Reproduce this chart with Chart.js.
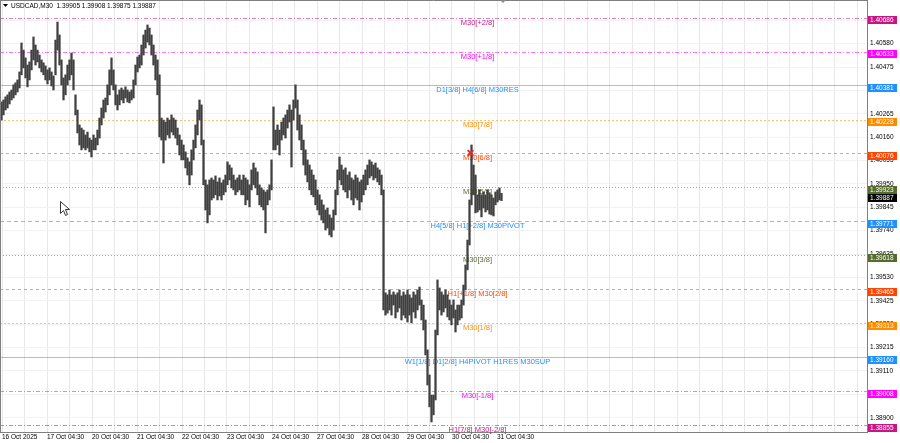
<!DOCTYPE html>
<html>
<head>
<meta charset="utf-8">
<script src="https://cdn.jsdelivr.net/npm/chart.js@4.4.1/dist/chart.umd.min.js"></script>
<style>
  html, body { margin: 0; padding: 0; background: #fff; }
  #wrap { width: 900px; height: 443px; position: relative; }
</style>
</head>
<body>
<div id="wrap"><canvas id="chart"></canvas></div>
<script>
const symbolName = 'USDCAD,M30';
const lastOhlc = [1.39905, 1.39908, 1.39875, 1.39887];

// one entry per hour-ish slot
const highs = [
  1.40318, 1.40327, 1.40341, 1.40350, 1.40363, 1.40372, 1.40395, 1.40404, 1.40417, 1.40453,
  1.40583, 1.40551, 1.40516, 1.40484, 1.40498, 1.40551, 1.40610, 1.40574, 1.40551, 1.40529,
  1.40507, 1.40494, 1.40480, 1.40462, 1.40471, 1.40453, 1.40435, 1.40596, 1.40677, 1.40619,
  1.40507, 1.40426, 1.40440, 1.40484, 1.40507, 1.40538, 1.40507, 1.40350, 1.40282, 1.40215,
  1.40201, 1.40192, 1.40170, 1.40183, 1.40156, 1.40147, 1.40170, 1.40156, 1.40192, 1.40246,
  1.40291, 1.40327, 1.40336, 1.40395, 1.40462, 1.40516, 1.40462, 1.40395, 1.40350, 1.40372,
  1.40381, 1.40372, 1.40386, 1.40372, 1.40363, 1.40372, 1.40417, 1.40484, 1.40520, 1.40529,
  1.40574, 1.40619, 1.40641, 1.40664, 1.40650, 1.40619, 1.40574, 1.40529, 1.40507, 1.40440,
  1.40246, 1.40237, 1.40228, 1.40246, 1.40237, 1.40260, 1.40246, 1.40237, 1.40201, 1.40170,
  1.40147, 1.40125, 1.40094, 1.40067, 1.40049, 1.40103, 1.40147, 1.40215, 1.40282, 1.40327,
  1.40305, 1.40147, 1.39968, 1.39946, 1.39968, 1.39977, 1.39968, 1.39986, 1.39959, 1.39977,
  1.39955, 1.39968, 1.39990, 1.40049, 1.40035, 1.40022, 1.39990, 1.39968, 1.39977, 1.39990,
  1.39968, 1.39990, 1.39977, 1.39968, 1.39946, 1.40013, 1.40044, 1.40022, 1.40004, 1.39946,
  1.39932, 1.39923, 1.39914, 1.39923, 1.39946, 1.40058, 1.40296, 1.40192, 1.40215, 1.40192,
  1.40228, 1.40246, 1.40260, 1.40282, 1.40305, 1.40282, 1.40327, 1.40395, 1.40327, 1.40260,
  1.40215, 1.40147, 1.40103, 1.40058, 1.40035, 1.40013, 1.39990, 1.39968, 1.39923, 1.39901,
  1.39878, 1.39856, 1.39833, 1.39842, 1.39811, 1.39797, 1.39833, 1.39923, 1.40013, 1.40071,
  1.40035, 1.40013, 1.40022, 1.39990, 1.40004, 1.39977, 1.39968, 1.39990, 1.39977, 1.39959,
  1.39968, 1.39990, 1.40013, 1.40035, 1.40058, 1.40049, 1.40035, 1.40044, 1.40022, 1.40013,
  1.39990, 1.39923, 1.39461, 1.39452, 1.39474, 1.39452, 1.39465, 1.39452, 1.39461, 1.39474,
  1.39447, 1.39465, 1.39452, 1.39474, 1.39452, 1.39438, 1.39465, 1.39452, 1.39474, 1.39487,
  1.39429, 1.39406, 1.39339, 1.39205, 1.39092, 1.39002, 1.39002, 1.39294, 1.39519, 1.39483,
  1.39465, 1.39452, 1.39474, 1.39452, 1.39429, 1.39406, 1.39429, 1.39384, 1.39406, 1.39406,
  1.39429, 1.39496, 1.39586, 1.39698, 1.39878, 1.40125, 1.40035, 1.39990, 1.39901, 1.39923,
  1.39901, 1.39914, 1.39901, 1.39923, 1.39910, 1.39901, 1.39887, 1.39914, 1.39923, 1.39932,
  1.39908
];
const lows = [
  1.40237, 1.40260, 1.40282, 1.40291, 1.40309, 1.40327, 1.40336, 1.40350, 1.40363, 1.40381,
  1.40440, 1.40471, 1.40426, 1.40386, 1.40417, 1.40462, 1.40507, 1.40484, 1.40498, 1.40471,
  1.40453, 1.40440, 1.40417, 1.40399, 1.40417, 1.40390, 1.40372, 1.40440, 1.40551, 1.40484,
  1.40395, 1.40327, 1.40350, 1.40395, 1.40417, 1.40440, 1.40372, 1.40260, 1.40179, 1.40125,
  1.40103, 1.40112, 1.40103, 1.40112, 1.40094, 1.40071, 1.40103, 1.40103, 1.40125, 1.40156,
  1.40215, 1.40246, 1.40273, 1.40305, 1.40350, 1.40395, 1.40372, 1.40305, 1.40282, 1.40305,
  1.40327, 1.40314, 1.40336, 1.40318, 1.40314, 1.40327, 1.40336, 1.40395, 1.40453, 1.40471,
  1.40484, 1.40529, 1.40560, 1.40587, 1.40574, 1.40529, 1.40484, 1.40417, 1.40350, 1.40161,
  1.40147, 1.40044, 1.40147, 1.40170, 1.40156, 1.40183, 1.40170, 1.40156, 1.40125, 1.40080,
  1.40058, 1.40058, 1.40022, 1.39990, 1.39946, 1.39990, 1.40058, 1.40112, 1.40170, 1.40237,
  1.40125, 1.39946, 1.39833, 1.39775, 1.39811, 1.39878, 1.39887, 1.39901, 1.39878, 1.39896,
  1.39878, 1.39901, 1.39914, 1.39946, 1.39968, 1.39932, 1.39923, 1.39901, 1.39914, 1.39923,
  1.39901, 1.39901, 1.39856, 1.39878, 1.39847, 1.39923, 1.39946, 1.39932, 1.39901, 1.39856,
  1.39847, 1.39833, 1.39730, 1.39856, 1.39878, 1.39923, 1.40103, 1.40103, 1.40125, 1.40080,
  1.40147, 1.40170, 1.40156, 1.40201, 1.40228, 1.40026, 1.40237, 1.40291, 1.40192, 1.40147,
  1.40103, 1.40035, 1.39990, 1.39959, 1.39923, 1.39901, 1.39892, 1.39856, 1.39833, 1.39811,
  1.39788, 1.39775, 1.39743, 1.39752, 1.39721, 1.39712, 1.39743, 1.39811, 1.39901, 1.39968,
  1.39946, 1.39923, 1.39914, 1.39887, 1.39923, 1.39878, 1.39856, 1.39887, 1.39878, 1.39833,
  1.39869, 1.39901, 1.39923, 1.39946, 1.39977, 1.39986, 1.39968, 1.39977, 1.39959, 1.39946,
  1.39901, 1.39384, 1.39361, 1.39370, 1.39384, 1.39361, 1.39406, 1.39348, 1.39375, 1.39393,
  1.39339, 1.39361, 1.39348, 1.39330, 1.39361, 1.39326, 1.39375, 1.39348, 1.39384, 1.39406,
  1.39339, 1.39294, 1.39182, 1.39047, 1.38949, 1.38881, 1.38913, 1.38980, 1.39272, 1.39384,
  1.39361, 1.39375, 1.39393, 1.39353, 1.39339, 1.39317, 1.39348, 1.39285, 1.39317, 1.39339,
  1.39348, 1.39406, 1.39474, 1.39564, 1.39676, 1.39856, 1.39901, 1.39820, 1.39824, 1.39833,
  1.39802, 1.39842, 1.39824, 1.39833, 1.39815, 1.39811, 1.39806, 1.39856, 1.39869, 1.39878,
  1.39875
];

const dateLabels = ['16 Oct 2025', '17 Oct 04:30', '20 Oct 04:30', '21 Oct 04:30', '22 Oct 04:30',
  '23 Oct 04:30', '24 Oct 04:30', '27 Oct 04:30', '28 Oct 04:30', '29 Oct 04:30', '30 Oct 04:30', '31 Oct 04:30'];
const slotsPerDay = 22.5;
const firstLabelSlot = 0.25;

const yTickValues = [1.38900, 1.39005, 1.39110, 1.39215, 1.39320, 1.39425, 1.39530, 1.39635, 1.39740,
  1.39845, 1.39950, 1.40055, 1.40160, 1.40265, 1.40370, 1.40475, 1.40580, 1.40685];

const levelPrices = [1.40686, 1.40533, 1.40381, 1.40228, 1.40076, 1.39923, 1.39771, 1.39618, 1.39465,
  1.39313, 1.39160, 1.39008, 1.38855];
const levelNames = ['M30[+2/8]', 'M30[+1/8]', 'D1[3/8] H4[6/8] M30RES', 'M30[7/8]', 'M30[6/8]', 'M30[5/8]',
  'H4[5/8] H1[+2/8] M30PIVOT', 'M30[3/8]', 'H1[+1/8] M30[2/8]', 'M30[1/8]',
  'W1[1/8] D1[2/8] H4PIVOT H1RES M30SUP', 'M30[-1/8]', 'H1[7/8] M30[-2/8]'];
const levelColors = ['#c71585', '#ff00ff', '#1e90ff', '#ff8c00', '#ff4500', '#556b2f', '#1e90ff',
  '#556b2f', '#ff4500', '#ff8c00', '#1e90ff', '#ff00ff', '#c71585'];
const levelDash = [[4, 2, 1, 2], [4, 2, 1, 2], [], [2, 2], [3, 3], [1, 2], [4, 3], [1, 2], [3, 3], [2, 2], [],
  [4, 2, 1, 2], [4, 2, 1, 2]];
const levelLabelSlot = 238;

const crossMark = { x: 234.5, y: 1.40089 };

const FONT = '"Liberation Sans", Arial, sans-serif';
Chart.defaults.font.family = FONT;

const levelsPlugin = {
    id: 'levels',
    beforeDatasetsDraw(chart) {
        const { ctx, chartArea: a, scales: { x, y } } = chart;
        ctx.save();
        levelPrices.forEach((p, i) => {
            const py = Math.round(y.getPixelForValue(p) - 2.5) + 0.5;
            ctx.globalAlpha = levelDash[i].length ? 0.55 : 0.5;
            ctx.strokeStyle = levelColors[i];
            ctx.lineWidth = 1;
            ctx.setLineDash(levelDash[i]);
            ctx.beginPath();
            ctx.moveTo(a.left, py);
            ctx.lineTo(a.right, py);
            ctx.stroke();
            ctx.globalAlpha = 1;
            ctx.setLineDash([]);
            ctx.fillStyle = levelColors[i];
            ctx.font = '7.5px ' + FONT;
            ctx.textAlign = 'center';
            ctx.textBaseline = 'middle';
            ctx.fillText(levelNames[i], x.getPixelForValue(levelLabelSlot), py + 4);
        });
        ctx.restore();
    },
    afterDraw(chart) {
        const { ctx, chartArea: a, scales: { y } } = chart;
        ctx.save();
        // frame
        ctx.strokeStyle = '#7f7f7f';
        ctx.lineWidth = 1;
        ctx.beginPath();
        ctx.moveTo(0, 0.5);
        ctx.lineTo(a.right, 0.5);
        ctx.moveTo(0.5, 0);
        ctx.lineTo(0.5, a.bottom);
        ctx.stroke();

        const box = (p, color) => {
            const cy = Math.round(y.getPixelForValue(p));
            ctx.fillStyle = color;
            ctx.fillRect(a.right + 1, cy - 4, 29, 8);
            ctx.fillStyle = '#fff';
            ctx.font = '6.5px ' + FONT;
            ctx.textAlign = 'left';
            ctx.textBaseline = 'middle';
            ctx.fillText(p.toFixed(5), a.right + 3, cy + 0.5);
        };
        box(lastOhlc[3], '#000');
        levelPrices.forEach((p, i) => box(p, levelColors[i]));

        // header
        ctx.fillStyle = '#000';
        ctx.beginPath();
        ctx.moveTo(3, 4);
        ctx.lineTo(8, 4);
        ctx.lineTo(5.5, 7);
        ctx.closePath();
        ctx.fill();
        ctx.font = '6.5px ' + FONT;
        ctx.textAlign = 'left';
        ctx.textBaseline = 'middle';
        ctx.fillText(symbolName + '  ' + lastOhlc.map(v => v.toFixed(5)).join(' '), 11, 6);

        // shift marker
        ctx.fillStyle = '#8a8a8a';
        ctx.beginPath();
        ctx.moveTo(500, 0);
        ctx.lineTo(506, 0);
        ctx.lineTo(503, 3);
        ctx.closePath();
        ctx.fill();

        // mouse pointer
        ctx.fillStyle = '#fff';
        ctx.strokeStyle = '#333';
        ctx.beginPath();
        ctx.moveTo(60.5, 201.5);
        ctx.lineTo(60.5, 213.5);
        ctx.lineTo(63.5, 210.5);
        ctx.lineTo(65.5, 215.5);
        ctx.lineTo(67.5, 214.5);
        ctx.lineTo(65.5, 209.5);
        ctx.lineTo(69.5, 209.5);
        ctx.closePath();
        ctx.fill();
        ctx.stroke();
        ctx.restore();
    }
};

const ctx = document.getElementById('chart').getContext('2d');
new Chart(ctx, {
    type: 'bar',
    data: {
        datasets: [
            {
                type: 'scatter',
                data: [crossMark],
                pointStyle: 'crossRot',
                pointRadius: 4,
                borderColor: '#e8262b',
                borderWidth: 2,
                order: 1
            },
            {
                type: 'bar',
                data: highs.map((h, i) => ({ x: i, y: [lows[i], h] })),
                backgroundColor: '#404040',
                barThickness: 1.6,
                grouped: false,
                order: 2
            }
        ]
    },
    options: {
        responsive: true,
        maintainAspectRatio: false,
        animation: false,
        events: [],
        layout: { padding: 0, autoPadding: false },
        plugins: { legend: { display: false }, tooltip: { enabled: false } },
        scales: {
            x: {
                type: 'linear',
                offset: false,
                min: -0.75,
                max: 432.75,
                afterFit: s => { s.height = 11; s.paddingLeft = 0; s.paddingRight = 0; },
                afterBuildTicks: s => {
                    const t = [];
                    for (let k = 0; firstLabelSlot + k * slotsPerDay / 2 <= 432; k++) {
                        t.push({ value: firstLabelSlot + k * slotsPerDay / 2 });
                    }
                    s.ticks = t;
                },
                ticks: {
                    autoSkip: false,
                    maxRotation: 0,
                    align: 'start',
                    padding: 1,
                    color: '#000',
                    font: { size: 6.5 },
                    callback: (v, i) => (i % 2 === 0 ? (dateLabels[i / 2] || '') : '')
                },
                grid: { color: '#e8e8e8', drawTicks: false, offset: false },
                border: { color: '#7f7f7f' }
            },
            y: {
                position: 'right',
                min: 1.38836,
                max: 1.40776,
                afterFit: s => { s.width = 33; s.paddingTop = 0; s.paddingBottom = 0; },
                afterBuildTicks: s => { s.ticks = yTickValues.map(v => ({ value: v })); },
                ticks: {
                    padding: 3,
                    color: '#000',
                    font: { size: 6.5 },
                    callback: v => v.toFixed(5)
                },
                grid: { color: '#f2f2f2', drawTicks: false },
                border: { color: '#7f7f7f' }
            }
        }
    },
    plugins: [levelsPlugin]
});
</script>
</body>
</html>
